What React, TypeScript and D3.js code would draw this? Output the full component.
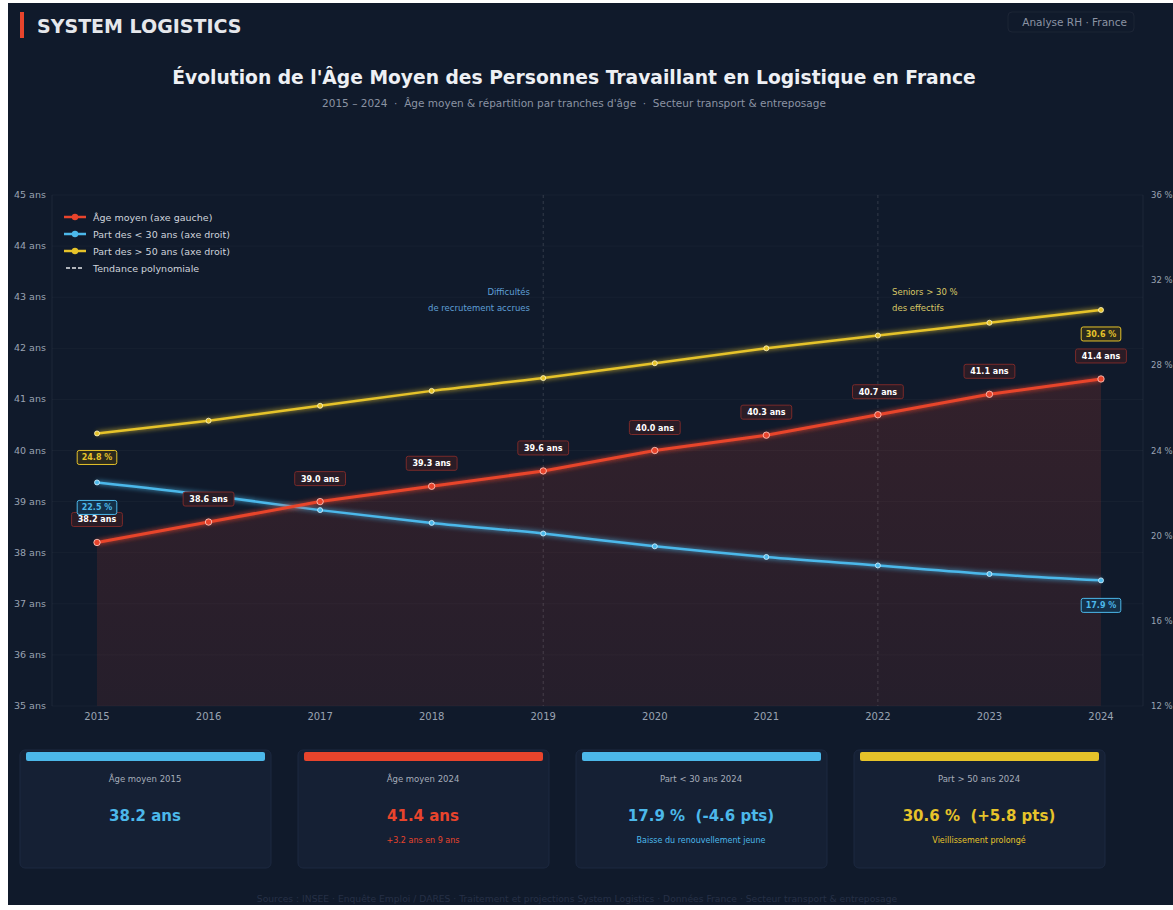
import React from 'react';
import * as d3 from 'd3';

// Données lues sur le graphique
const years = [2015, 2016, 2017, 2018, 2019, 2020, 2021, 2022, 2023, 2024];
const ageMoyen = [38.2, 38.6, 39.0, 39.3, 39.6, 40.0, 40.3, 40.7, 41.1, 41.4];
const partMoins30 = [22.5, 21.9, 21.2, 20.6, 20.1, 19.5, 19.0, 18.6, 18.2, 17.9];
const partPlus50 = [24.8, 25.4, 26.1, 26.8, 27.4, 28.1, 28.8, 29.4, 30.0, 30.6];
const leftTicks = [35, 36, 37, 38, 39, 40, 41, 42, 43, 44, 45];
const rightTicks = [12, 16, 20, 24, 28, 32, 36];

const legendItems = [
  { label: 'Âge moyen (axe gauche)', color: '#e8442c', dash: false },
  { label: 'Part des < 30 ans (axe droit)', color: '#4cb8ea', dash: false },
  { label: 'Part des > 50 ans (axe droit)', color: '#e6c32a', dash: false },
  { label: 'Tendance polynomiale', color: '#e5e7eb', dash: true },
];

const cards = [
  { title: 'Âge moyen 2015', value: '38.2 ans', sub: '', color: '#4cb8ea' },
  { title: 'Âge moyen 2024', value: '41.4 ans', sub: '+3.2 ans en 9 ans', color: '#e8442c' },
  { title: 'Part < 30 ans 2024', value: '17.9 %  (-4.6 pts)', sub: 'Baisse du renouvellement jeune', color: '#4cb8ea' },
  { title: 'Part > 50 ans 2024', value: '30.6 %  (+5.8 pts)', sub: 'Vieillissement prolongé', color: '#e6c32a' },
];

const RED = '#e8442c';
const BLUE = '#4cb8ea';
const YELLOW = '#e6c32a';
const FONT = '"DejaVu Sans", sans-serif';

const App: React.FC = () => {
  const W = 1173;
  const H = 910;
  const plot = { left: 52, right: 1143, top: 195, bottom: 706 };

  const x = d3.scaleLinear().domain([2015, 2024]).range([97, 1101]);
  const yL = d3.scaleLinear().domain([35, 45]).range([plot.bottom, plot.top]);
  const yR = d3.scaleLinear().domain([12, 36]).range([plot.bottom, plot.top]);

  const lineAge = d3.line<number>().x((_, i) => x(years[i])).y(d => yL(d));
  const areaAge = d3.area<number>().x((_, i) => x(years[i])).y0(plot.bottom).y1(d => yL(d));
  const lineR = d3.line<number>().x((_, i) => x(years[i])).y(d => yR(d)).curve(d3.curveMonotoneX);

  const label = (key: string, cx: number, cy: number, text: string, color: string, fill: string, textColor: string) => {
    const w = text.length * 5.6 + 6;
    return (
      <g key={key}>
        <rect x={cx - w / 2} y={cy - 7} width={w} height={14} rx={2} fill={fill} stroke={color} strokeWidth={1} />
        <text x={cx} y={cy + 3} textAnchor="middle" fontSize={8} fontWeight="bold" fill={textColor} fontFamily={FONT}>{text}</text>
      </g>
    );
  };

  return (
    <svg width={W} height={H} style={{ position: 'absolute', left: 0, top: 0 }}>
      <defs>
        <filter id="glow" x="-10%" y="-50%" width="120%" height="200%">
          <feGaussianBlur stdDeviation="2.5" result="b" />
          <feMerge><feMergeNode in="b" /><feMergeNode in="SourceGraphic" /></feMerge>
        </filter>
        <linearGradient id="areaGrad" x1="0" y1="0" x2="0" y2="1">
          <stop offset="0%" stopColor={RED} stopOpacity={0.16} />
          <stop offset="100%" stopColor={RED} stopOpacity={0.1} />
        </linearGradient>
      </defs>
      <rect x={0} y={0} width={W} height={H} fill="#ffffff" />
      <rect x={8} y={3} width={W - 8} height={902} fill="#101a2b" />

      {/* En-tête */}
      <rect x={20} y={12} width={4} height={26} fill="#e8442c" />
      <text x={37} y={33} fontSize={19} fontWeight="bold" fill="#e5e7eb" fontFamily={FONT}>SYSTEM LOGISTICS</text>
      <rect x={1008} y={12} width={126} height={20} rx={4} fill="none" stroke="#ffffff" strokeOpacity={0.05} />
      <text x={1127} y={26} textAnchor="end" fontSize={10.5} fill="#8b93a3" fontFamily={FONT}>Analyse RH · France</text>

      <text x={574} y={84} textAnchor="middle" fontSize={18.7} fontWeight="bold" fill="#eef0f4" fontFamily={FONT}>
        Évolution de l'Âge Moyen des Personnes Travaillant en Logistique en France
      </text>
      <text x={574} y={107} textAnchor="middle" fontSize={10.5} fill="#8b93a3" fontFamily={FONT} style={{ whiteSpace: 'pre' }}>
        {'2015 – 2024  ·  Âge moyen & répartition par tranches d\'âge  ·  Secteur transport & entreposage'}
      </text>

      {/* Zone du graphique */}
      <line x1={plot.left} x2={plot.left} y1={plot.top} y2={plot.bottom} stroke="#1c2638" />
      <line x1={plot.right} x2={plot.right} y1={plot.top} y2={plot.bottom} stroke="#1c2638" />
      {leftTicks.map(t => (
        <g key={'l' + t}>
          <line x1={plot.left} x2={plot.right} y1={yL(t)} y2={yL(t)} stroke="#ffffff" strokeOpacity={0.03} />
          <text x={14} y={yL(t) + 3} fontSize={9.5} fill="#9aa3b2" fontFamily={FONT}>{t} ans</text>
        </g>
      ))}
      {rightTicks.map(t => (
        <text key={'r' + t} x={1151} y={yR(t) + 3} fontSize={8.5} fill="#9aa3b2" fontFamily={FONT}>{t} %</text>
      ))}
      {years.map(yr => (
        <text key={'x' + yr} x={x(yr)} y={720} textAnchor="middle" fontSize={10} fill="#9aa3b2" fontFamily={FONT}>{yr}</text>
      ))}

      <path d={areaAge(ageMoyen) || ''} fill="url(#areaGrad)" />

      {/* Annotations */}
      {[2019, 2022].map(yr => (
        <line key={'v' + yr} x1={x(yr)} x2={x(yr)} y1={plot.top} y2={plot.bottom} stroke="#ffffff" strokeOpacity={0.14} strokeDasharray="3 3" />
      ))}
      <text x={530} y={295} textAnchor="end" fontSize={8.5} fill="#5f9fd6" fontFamily={FONT}>Difficultés</text>
      <text x={530} y={311} textAnchor="end" fontSize={8.5} fill="#5f9fd6" fontFamily={FONT}>de recrutement accrues</text>
      <text x={892} y={295} fontSize={8.5} fill="#d9c866" fontFamily={FONT}>Seniors &gt; 30 %</text>
      <text x={892} y={311} fontSize={8.5} fill="#d9c866" fontFamily={FONT}>des effectifs</text>

      {/* Séries */}
      <path d={lineR(partPlus50) || ''} fill="none" stroke={YELLOW} strokeWidth={2.5} filter="url(#glow)" />
      <path d={lineR(partMoins30) || ''} fill="none" stroke={BLUE} strokeWidth={2.5} filter="url(#glow)" />
      <path d={lineAge(ageMoyen) || ''} fill="none" stroke={RED} strokeWidth={3} filter="url(#glow)" />

      {partPlus50.map((v, i) => (
        <circle key={'py' + i} cx={x(years[i])} cy={yR(v)} r={2.5} fill={YELLOW} stroke="#fff6c8" strokeWidth={0.8} />
      ))}
      {partMoins30.map((v, i) => (
        <circle key={'pb' + i} cx={x(years[i])} cy={yR(v)} r={2.5} fill={BLUE} stroke="#d8f2ff" strokeWidth={0.8} />
      ))}
      {ageMoyen.map((v, i) => (
        <circle key={'pr' + i} cx={x(years[i])} cy={yL(v)} r={3.2} fill={RED} stroke="#ffd0c8" strokeWidth={0.8} />
      ))}

      {/* Étiquettes */}
      {ageMoyen.map((v, i) =>
        label('lr' + i, x(years[i]), yL(v) - 23, `${v.toFixed(1)} ans`, '#7a2a2a', '#2a1c26', '#ffffff')
      )}
      {[0, partPlus50.length - 1].map(i =>
        label('ly' + i, x(years[i]), yR(partPlus50[i]) + 24, `${partPlus50[i].toFixed(1)} %`, YELLOW, '#2b2a1e', YELLOW)
      )}
      {[0, partMoins30.length - 1].map(i =>
        label('lb' + i, x(years[i]), yR(partMoins30[i]) + 25, `${partMoins30[i].toFixed(1)} %`, BLUE, '#143048', BLUE)
      )}

      {/* Légende */}
      {legendItems.map((it, i) => {
        const ly = 217 + i * 17;
        return (
          <g key={'lg' + i}>
            {it.dash ? (
              <line x1={66} x2={84} y1={ly} y2={ly} stroke={it.color} strokeWidth={1.5} strokeDasharray="4 2" />
            ) : (
              <g>
                <line x1={64} x2={86} y1={ly} y2={ly} stroke={it.color} strokeWidth={2.5} />
                <circle cx={75} cy={ly} r={3.2} fill={it.color} />
              </g>
            )}
            <text x={93} y={ly + 3.5} fontSize={9.5} fill="#cfd4dc" fontFamily={FONT}>{it.label}</text>
          </g>
        );
      })}

      {/* Cartes */}
      {cards.map((c, i) => {
        const cx0 = 20 + i * 278;
        return (
          <g key={'c' + i}>
            <rect x={cx0} y={750} width={251} height={118} rx={5} fill="#152034" stroke="#1c2840" />
            <rect x={cx0 + 6} y={752} width={239} height={9} rx={2} fill={c.color} />
            <text x={cx0 + 125} y={782} textAnchor="middle" fontSize={8.5} fill="#a6adba" fontFamily={FONT}>{c.title}</text>
            <text x={cx0 + 125} y={821} textAnchor="middle" fontSize={15} fontWeight="bold" fill={c.color} fontFamily={FONT} style={{ whiteSpace: 'pre' }}>{c.value}</text>
            {c.sub && (
              <text x={cx0 + 125} y={843} textAnchor="middle" fontSize={8} fill={c.color} fontFamily={FONT}>{c.sub}</text>
            )}
          </g>
        );
      })}

      <text x={577} y={902} textAnchor="middle" fontSize={9.2} fill="#263046" fontFamily={FONT}>
        Sources : INSEE · Enquête Emploi / DARES · Traitement et projections System Logistics · Données France · Secteur transport & entreposage
      </text>
    </svg>
  );
};

export default App;
